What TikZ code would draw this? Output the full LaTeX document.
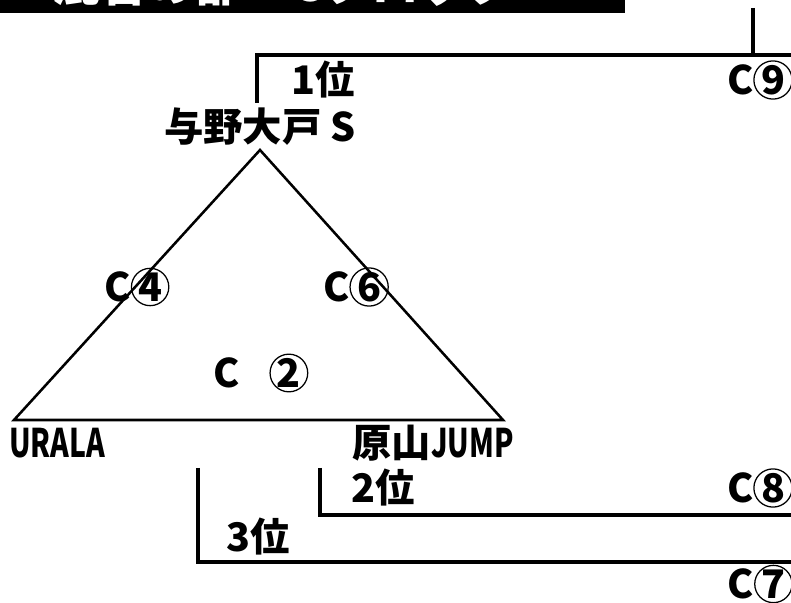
\documentclass[tikz,border=0pt]{standalone}
\usepackage{fontspec}
\setmainfont{Noto Sans CJK JP}
\newfontfamily\narrowlatin{Noto Sans CJK JP}[FakeStretch=0.72]
\usetikzlibrary{positioning}

% circled number drawn as a ring round a bold digit
\newcommand{\maru}[1]{\tikz[baseline=(d.base)]\node[draw, circle, line width=0.9pt, minimum size=0.93cm, inner sep=0pt] (d) {#1};}
\newcommand{\lat}[1]{{\narrowlatin\bfseries #1}}

\begin{document}
\begin{tikzpicture}[x=0.025cm, y=-0.025cm,
  every node/.append style={font=\fontsize{28}{28}\selectfont\bfseries, inner sep=0pt},
  court/.style={anchor=east},
  bracket/.style={line width=2.2pt},
  match/.style={line width=1.8pt, line join=miter}]

  \useasboundingbox (0,0) rectangle (791,603);

  % title bar, cut off at the top
  \fill[black] (0,0) rectangle (625,13);
  \begin{scope}
    \clip (0,0) rectangle (625,13);
    \node[anchor=base west, text=white, font=\fontsize{34}{34}\selectfont\bfseries] (title) at (52,2) {混合の部　Cブロック};
  \end{scope}

  % teams
  \node (yono) at (260,127) {与野大戸 S};
  \node[anchor=west] (urala) at (9,443) {\lat{URALA}};
  \node[anchor=west] (harayama) at (352,443) {原山\lat{JUMP}};

  \coordinate (apex) at (260,150);
  \coordinate (baseL) at (14,420);
  \coordinate (baseR) at (503,420);
  \draw[match] (apex) -- (baseL) -- (baseR) -- cycle;

  % league matches
  \node (c4) at (137,287) {C\maru{4}};
  \node (c6) at (356,287) {C\maru{6}};
  \node (c2) at (261,373) {C\hspace{0.75em}\maru{2}};

  % ranking lines
  \coordinate (r1) at (257,103);
  \coordinate (r1end) at (791,55);
  \coordinate (r1up) at (753,8);
  \coordinate (r1join) at (753,55);
  \draw[bracket] (r1) |- (r1end);
  \draw[bracket] (r1up) -- (r1join);
  \node (rank1) at (323,80) {1位};
  \node[court] (c9) at (793,80) {C\maru{9}};

  \coordinate (r2) at (320,468);
  \coordinate (r2end) at (791,515);
  \draw[bracket] (r2) |- (r2end);
  \node (rank2) at (383,488) {2位};
  \node[court] (c8) at (793,488) {C\maru{8}};

  \coordinate (r3) at (198,468);
  \coordinate (r3end) at (791,562);
  \draw[bracket] (r3) |- (r3end);
  \node (rank3) at (258,537) {3位};
  \node[court] (c7) at (793,584) {C\maru{7}};
\end{tikzpicture}
\end{document}
